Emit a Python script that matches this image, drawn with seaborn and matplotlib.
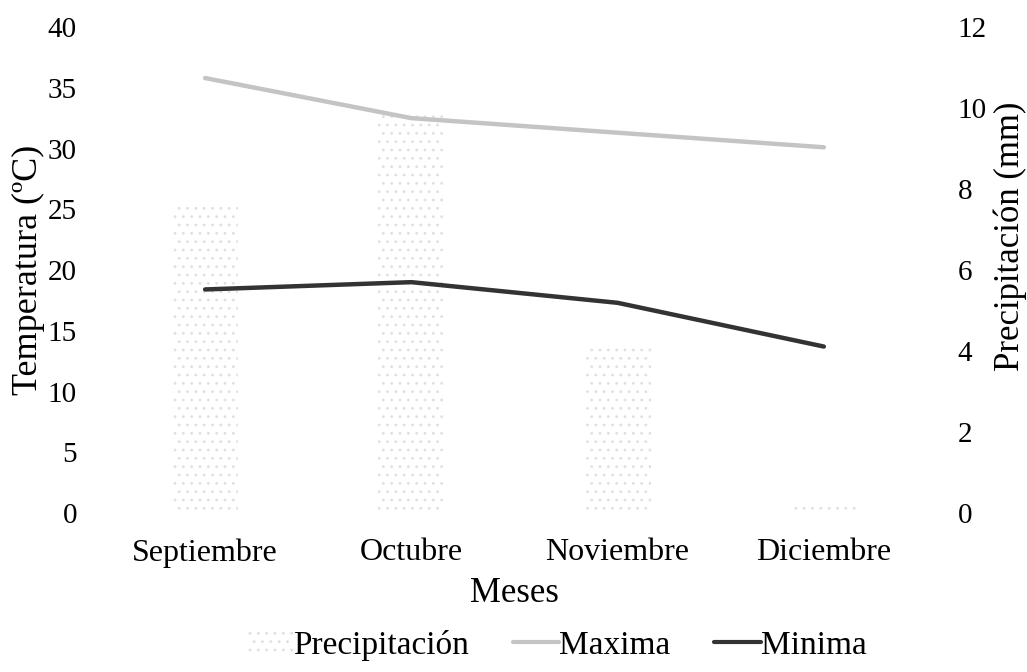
import numpy as np
import pandas as pd
import seaborn as sns
import matplotlib.pyplot as plt
from matplotlib.patches import Patch
from matplotlib.lines import Line2D

meses = ["Septiembre", "Octubre", "Noviembre", "Diciembre"]
precipitacion = [7.6, 9.9, 4.2, 0.25]
maxima = [35.8, 32.5, 31.3, 30.1]
minima = [18.4, 19.0, 17.3, 13.7]

sns.set_theme(style="white")
plt.rcParams["font.family"] = ["Liberation Serif", "DejaVu Serif"]
plt.rcParams["hatch.linewidth"] = 0.8
plt.rcParams["text.color"] = "black"
plt.rcParams["axes.labelcolor"] = "black"

df = pd.DataFrame({"Meses": meses, "Precipitación": precipitacion,
                   "Maxima": maxima, "Minima": minima})

fig = plt.figure(figsize=(10.27, 6.72), dpi=100)
ax1 = fig.add_axes([0.0993, 0.2366, 0.8033, 0.7232])
ax2 = ax1.twinx()

# barras de precipitación en el eje derecho
sns.barplot(data=df, x="Meses", y="Precipitación", ax=ax2, color="white",
            width=0.32, saturation=1, edgecolor="none", linewidth=0)
for p in ax2.patches:
    p.set_facecolor("white")
    p.set_hatch("..")
    p.set_edgecolor("#e0e0e0")
    p.set_linewidth(0)

# temperaturas en el eje izquierdo
sns.lineplot(data=df, x="Meses", y="Maxima", ax=ax1, color="#c4c4c4", linewidth=3.2, sort=False)
sns.lineplot(data=df, x="Meses", y="Minima", ax=ax1, color="#333333", linewidth=3.2, sort=False)
ax1.set_zorder(ax2.get_zorder() + 1)
ax1.patch.set_visible(False)

ax1.set_xlim(-0.5, 3.5)
ax1.set_ylim(0, 40)
ax1.set_yticks(range(0, 41, 5))
ax2.set_ylim(0, 12)
ax2.set_yticks(range(0, 13, 2))

for ax in (ax1, ax2):
    for s in ax.spines.values():
        s.set_visible(False)
    ax.tick_params(length=0, labelsize=21, colors="black")

ax1.tick_params(axis="y", pad=18)
ax2.tick_params(axis="y", pad=22)
ax1.tick_params(axis="x", pad=18, labelsize=23)

ax1.set_xlabel("Meses", fontsize=25, labelpad=7)
ax1.set_ylabel("Temperatura (ºC)", fontsize=26, labelpad=2)
ax2.set_ylabel("Precipitación (mm)", fontsize=25)
ax2.yaxis.set_label_coords(1.081, 0.57)

handles = [Patch(facecolor="white", hatch="..", edgecolor="#e0e0e0", linewidth=0),
           Line2D([], [], color="#c4c4c4", linewidth=3),
           Line2D([], [], color="#333333", linewidth=3)]
fig.legend(handles, ["Precipitación", "Maxima", "Minima"], loc="center",
           bbox_to_anchor=(0.542, 0.04), ncol=3, frameon=False, fontsize=24,
           handlelength=1.4, handletextpad=0.0, columnspacing=1.3)

fig.savefig("out.png", dpi=100)
